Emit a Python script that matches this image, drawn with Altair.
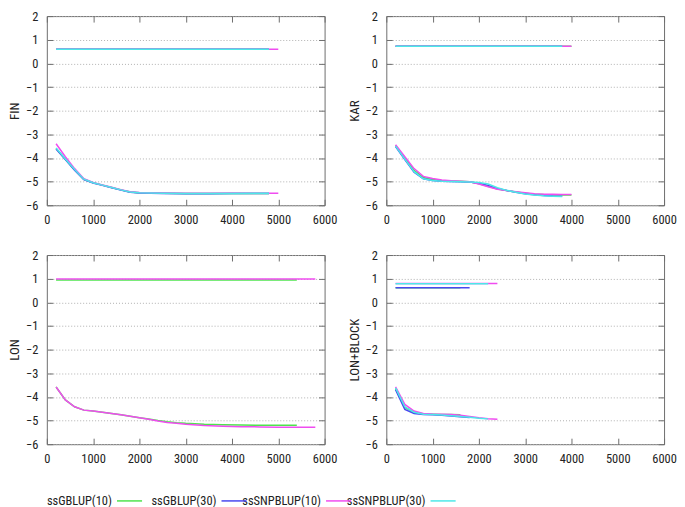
import altair as alt
import pandas as pd

METHODS = ["ssGBLUP(10)", "ssGBLUP(30)", "ssSNPBLUP(10)", "ssSNPBLUP(30)"]
COLORS = ["#4ee44e", "#4848f0", "#f04cf0", "#4ce8e8"]
X_TICKS = [0, 1000, 2000, 3000, 4000, 5000, 6000]
Y_TICKS = [-6, -5, -4, -3, -2, -1, 0, 1, 2]

# ---------------- FIN ----------------
FIN_X = [200, 400, 600, 800, 1000, 1200, 1400, 1600, 1800, 2000, 2500, 3000, 3500, 4000, 4500, 4800, 5000]
FIN_GB10 = [-3.60, -4.05, -4.50, -4.90, -5.05, -5.15, -5.25, -5.35, -5.44, -5.47, -5.49, -5.50, -5.50, -5.50, -5.50, -5.50]
FIN_GB30 = [-3.62, -4.07, -4.52, -4.92, -5.06, -5.16, -5.26, -5.36, -5.45, -5.48, -5.50, -5.51, -5.51, -5.50, -5.50, -5.50]
FIN_SNP10 = [-3.40, -3.95, -4.45, -4.88, -5.04, -5.14, -5.24, -5.34, -5.43, -5.46, -5.48, -5.49, -5.49, -5.49, -5.49, -5.49, -5.49]
FIN_SNP30 = [-3.58, -4.04, -4.49, -4.90, -5.05, -5.15, -5.25, -5.35, -5.44, -5.47, -5.49, -5.50, -5.50, -5.50, -5.49, -5.49]
FIN_TOP = [0.60, 0.60, 0.60, 0.60]
FIN_END = [4800, 4800, 5000, 4800]

# ---------------- KAR ----------------
KAR_X = [200, 400, 600, 800, 1000, 1200, 1400, 1600, 1800, 2000, 2200, 2400, 2600, 2800, 3000, 3200, 3400, 3600, 3800, 4000]
KAR_GB10 = [-3.47, -4.00, -4.52, -4.83, -4.91, -4.96, -4.98, -4.99, -5.01, -5.09, -5.20, -5.31, -5.38, -5.44, -5.49, -5.53, -5.55, -5.56, -5.57, -5.57]
KAR_GB30 = [-3.52, -4.07, -4.60, -4.88, -4.95, -4.99, -5.00, -5.01, -5.02, -5.07, -5.16, -5.29, -5.38, -5.45, -5.51, -5.56, -5.59, -5.61, -5.62]
KAR_SNP10 = [-3.44, -3.95, -4.45, -4.78, -4.87, -4.93, -4.96, -4.98, -5.01, -5.10, -5.22, -5.32, -5.38, -5.43, -5.47, -5.51, -5.53, -5.54, -5.55, -5.55]
KAR_SNP30 = [-3.50, -4.05, -4.58, -4.88, -4.95, -4.99, -5.00, -5.01, -5.02, -5.04, -5.10, -5.26, -5.37, -5.45, -5.52, -5.57, -5.60, -5.62, -5.63]
KAR_TOP = [0.72, 0.72, 0.72, 0.72]
KAR_END = [4000, 3800, 4000, 3800]

# ---------------- LON ----------------
LON_X = [200, 400, 600, 800, 1000, 1200, 1400, 1600, 1800, 2000, 2200, 2400, 2600, 2800, 3000, 3400, 3800, 4200, 4600, 5000, 5400, 5800]
LON_GB10 = [-3.58, -4.13, -4.42, -4.56, -4.60, -4.65, -4.70, -4.76, -4.82, -4.88, -4.94, -5.00, -5.05, -5.09, -5.12, -5.16, -5.18, -5.19, -5.20, -5.20, -5.20]
LON_GB30 = None
LON_SNP10 = [-3.58, -4.13, -4.42, -4.56, -4.60, -4.65, -4.70, -4.76, -4.82, -4.88, -4.95, -5.02, -5.08, -5.12, -5.16, -5.21, -5.24, -5.26, -5.27, -5.28, -5.28, -5.28]
LON_SNP30 = None
LON_TOP = [0.94, None, 0.99, None]
LON_END = [5400, None, 5800, None]

# ------------- LON+BLOCK -------------
LB_X = [200, 400, 600, 800, 1000, 1200, 1400, 1600, 1800, 2000, 2200, 2400]
LB_GB10 = [-3.65, -4.45, -4.65, -4.72, -4.73, -4.74, -4.75, -4.76]
LB_GB30 = [-3.70, -4.53, -4.70, -4.74, -4.76, -4.78, -4.81, -4.84, -4.87]
LB_SNP10 = [-3.58, -4.32, -4.60, -4.70, -4.72, -4.73, -4.74, -4.78, -4.83, -4.88, -4.92, -4.95]
LB_SNP30 = [-3.62, -4.42, -4.65, -4.73, -4.75, -4.77, -4.80, -4.83, -4.86, -4.90, -4.93]
LB_TOP = [0.62, 0.62, 0.80, 0.79]
LB_END = [1600, 1800, 2400, 2200]

FONT = "Roboto Condensed, DejaVu Sans Condensed, Liberation Sans, sans-serif"
W, H = 279, 190
FRAME = "#6e6e6e"
TXT = "#222222"
LW = 1.5


def panel_df(xs, lows, tops, ends):
    rows = []
    for m, low, top, end in zip(METHODS, lows, tops, ends):
        if low is None:
            continue
        for x, y in zip(xs, low):
            rows.append({"method": m, "seg": m + "-low", "x": x, "y": y})
        rows.append({"method": m, "seg": m + "-top", "x": xs[0], "y": top})
        rows.append({"method": m, "seg": m + "-top", "x": end, "y": top})
    return pd.DataFrame(rows)


def panel(title, xs, lows, tops, ends):
    df = panel_df(xs, lows, tops, ends)
    xsc = alt.Scale(domain=[0, 6000], nice=False)
    ysc = alt.Scale(domain=[-6, 2], nice=False)
    cs = alt.Scale(domain=METHODS, range=COLORS)
    main_x = alt.Axis(values=X_TICKS, format="d", labelOverlap=False, labelFlush=False,
                      grid=False, ticks=False, tickSize=0, domain=False, labelPadding=8,
                      title=None, labelFontSize=12.5, labelFont=FONT, labelColor=TXT)
    main_y = alt.Axis(values=Y_TICKS, format="d", labelOverlap=False, labelFlush=False,
                      grid=True, gridDash=[1, 2], gridColor="#b0b0b0", ticks=False, tickSize=0,
                      domain=False, labelPadding=9, title=title, titleFont=FONT,
                      titleFontSize=13, titleFontWeight="normal", titleColor=TXT,
                      titlePadding=4, labelFontSize=12.5, labelFont=FONT, labelColor=TXT)
    layers = []
    for m in METHODS:
        sub = df[df.method == m]
        if sub.empty:
            continue
        layers.append(
            alt.Chart(sub).mark_line(strokeWidth=LW).encode(
                x=alt.X("x:Q", scale=xsc, axis=main_x),
                y=alt.Y("y:Q", scale=ysc, axis=main_y),
                color=alt.Color("method:N", scale=cs, legend=None),
                detail="seg:N",
            )
        )
    lines = alt.layer(*layers)

    def tick_axis(orient):
        return alt.Axis(orient=orient, values=X_TICKS if orient in ("top", "bottom") else Y_TICKS,
                        labels=False, domain=False, grid=False, ticks=True, tickSize=6,
                        tickColor=FRAME, offset=-6, title=None)

    t1 = alt.Chart(df).mark_point(opacity=0).encode(
        x=alt.X("x:Q", scale=xsc, axis=tick_axis("bottom")),
        y=alt.Y("y:Q", scale=ysc, axis=tick_axis("left")),
    )
    t2 = alt.Chart(df).mark_point(opacity=0).encode(
        x=alt.X("x:Q", scale=xsc, axis=tick_axis("top")),
        y=alt.Y("y:Q", scale=ysc, axis=tick_axis("right")),
    )
    return alt.layer(lines, t1, t2).resolve_axis(x="independent", y="independent").properties(
        width=W, height=H)


fin = panel("FIN", FIN_X, [FIN_GB10, FIN_GB30, FIN_SNP10, FIN_SNP30], FIN_TOP, FIN_END)
kar = panel("KAR", KAR_X, [KAR_GB10, KAR_GB30, KAR_SNP10, KAR_SNP30], KAR_TOP, KAR_END)
lon = panel("LON", LON_X, [LON_GB10, LON_GB30, LON_SNP10, LON_SNP30], LON_TOP, LON_END)
lb = panel("LON+BLOCK", LB_X, [LB_GB10, LB_GB30, LB_SNP10, LB_SNP30], LB_TOP, LB_END)

# legend (label followed by line sample, gnuplot style)
LEG_W = 622
leg_df = pd.DataFrame({"method": METHODS, "i": list(range(len(METHODS)))})
leg_df["i2"] = leg_df["i"] + 0.24
lsc = alt.Scale(domain=[-0.671, -0.671 + LEG_W / 105], nice=False, zero=False)
cs = alt.Scale(domain=METHODS, range=COLORS)
leg_text = alt.Chart(leg_df).mark_text(align="right", baseline="middle", dx=-5, font=FONT,
                                       fontSize=12.5, color=TXT).encode(
    x=alt.X("i:Q", scale=lsc, axis=None), y=alt.value(10), text="method:N")
leg_rule = alt.Chart(leg_df).mark_rule(strokeWidth=LW).encode(
    x=alt.X("i:Q", scale=lsc, axis=None), x2="i2:Q", y=alt.value(10),
    color=alt.Color("method:N", scale=cs, legend=None))
legend = alt.layer(leg_text, leg_rule).properties(
    width=LEG_W, height=20, view=alt.ViewConfig(strokeOpacity=0))

row1 = alt.hconcat(fin, kar, spacing=10)
row2 = alt.hconcat(lon, lb, spacing=10)
grid = alt.vconcat(row1, row2, spacing=22)
chart = alt.vconcat(grid, legend, spacing=26, padding=0, background="white").configure_view(
    stroke=FRAME, strokeWidth=1
)

chart.save("out.html", embed_options={"renderer": "svg", "actions": False})
